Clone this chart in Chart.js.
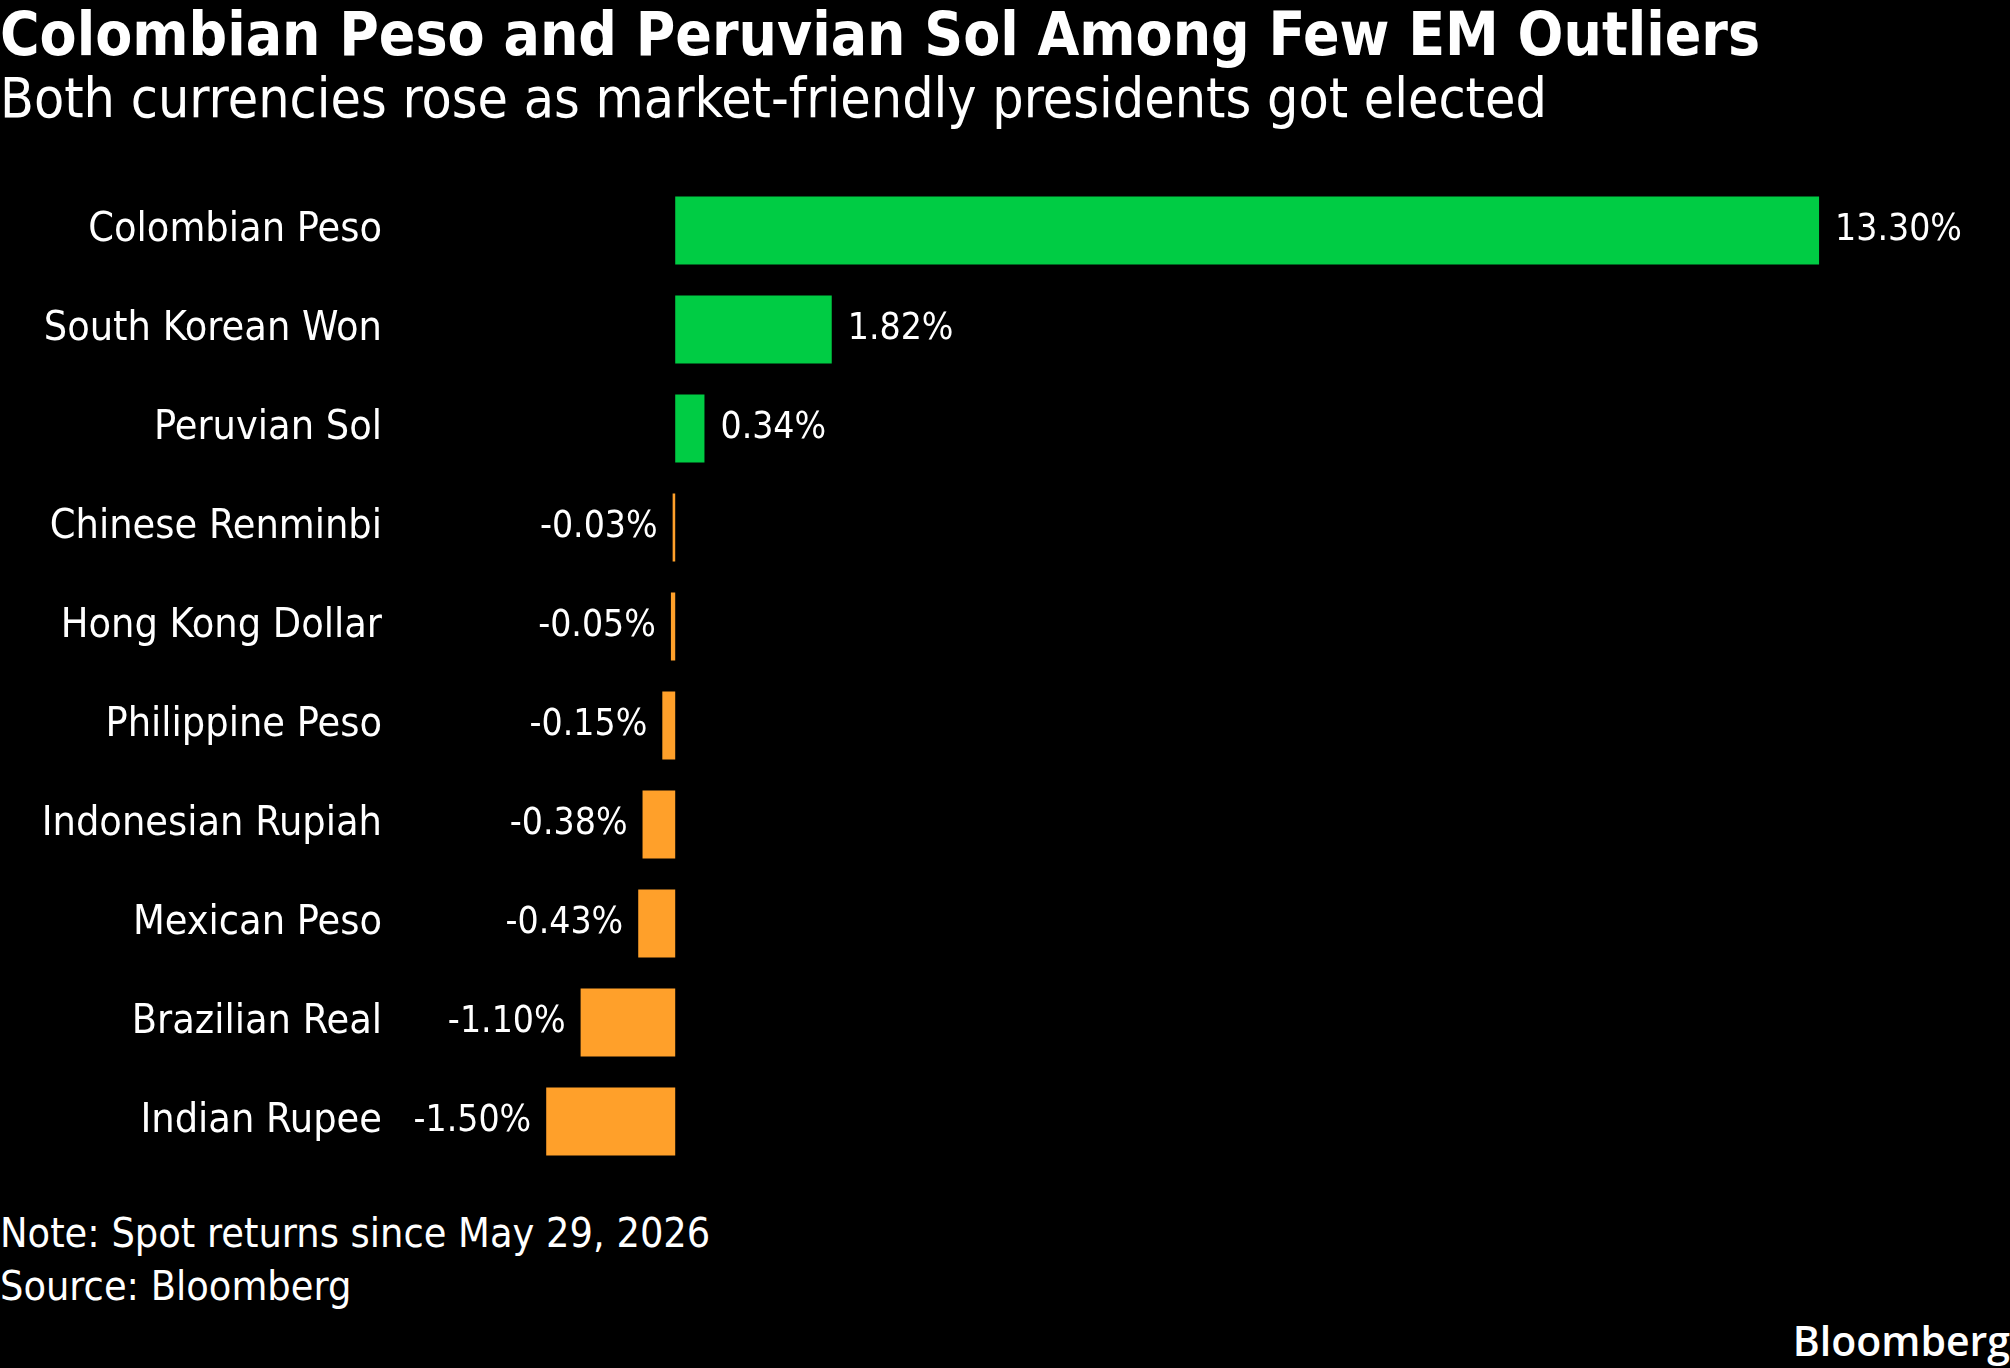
<!DOCTYPE html>
<html>
<head>
<meta charset="utf-8">
<script src="https://cdn.jsdelivr.net/npm/chart.js@4"></script>
<style>
  body { margin: 0; background: #000; width: 2010px; height: 1368px; overflow: hidden; position: relative; }
  .txt { position: absolute; color: #fff; white-space: nowrap; line-height: 1; font-family: "DejaVu Sans"; font-stretch: condensed; }
  #title { left: 0; top: 4px; font-size: 60px; font-weight: bold; }
  #subtitle { left: 0; top: 71px; font-size: 55px; }
  #note { left: 0; top: 1213px; font-size: 41px; }
  #source { left: 0; top: 1266px; font-size: 41px; }
  #logo { right: 0; top: 1312px; font: 600 41px "Open Sans"; font-stretch: normal; }
  #wrap { position: absolute; left: 0; top: 181px; width: 2010px; height: 990px; }
</style>
</head>
<body>
<div class="txt" id="title">Colombian Peso and Peruvian Sol Among Few EM Outliers</div>
<div class="txt" id="subtitle">Both currencies rose as market-friendly presidents got elected</div>
<div class="txt" id="note">Note: Spot returns since May 29, 2026</div>
<div class="txt" id="source">Source: Bloomberg</div>
<div class="txt" id="logo">Bloomberg</div>
<div id="wrap"><canvas id="chart"></canvas></div>
<script>
const currencies = ['Colombian Peso', 'South Korean Won', 'Peruvian Sol', 'Chinese Renminbi', 'Hong Kong Dollar',
    'Philippine Peso', 'Indonesian Rupiah', 'Mexican Peso', 'Brazilian Real', 'Indian Rupee'];
const returns = [13.30, 1.82, 0.34, -0.03, -0.05, -0.15, -0.38, -0.43, -1.10, -1.50];

const nameFont = 'condensed 41px "DejaVu Sans"';
const valueFont = 'condensed 37px "DejaVu Sans"';

// nomes das moedas e valores desenhados à mão (fonte condensada)
const textLabels = {
    id: 'textLabels',
    afterDatasetsDraw(chart) {
        const ctx = chart.ctx;
        const meta = chart.getDatasetMeta(0);
        const yScale = chart.scales.y;
        ctx.save();
        ctx.fillStyle = '#fff';
        ctx.textBaseline = 'middle';
        ctx.font = nameFont;
        ctx.textAlign = 'right';
        currencies.forEach((name, i) => {
            ctx.fillText(name, 382, yScale.getPixelForValue(i));
        });
        ctx.font = valueFont;
        meta.data.forEach((bar, i) => {
            const v = returns[i];
            const txt = v.toFixed(2) + '%';
            if (v >= 0) {
                ctx.textAlign = 'left';
                ctx.fillText(txt, bar.x + 16, bar.y);
            } else {
                ctx.textAlign = 'right';
                ctx.fillText(txt, bar.x - 15, bar.y);
            }
        });
        ctx.restore();
    }
};

new Chart(document.getElementById('chart'), {
    type: 'bar',
    data: {
        labels: currencies,
        datasets: [{
            data: returns,
            backgroundColor: returns.map(v => v >= 0 ? '#00cc44' : '#ffa02a'),
            borderWidth: 0,
            categoryPercentage: 1,
            barPercentage: 0.687
        }]
    },
    options: {
        indexAxis: 'y',
        responsive: true,
        maintainAspectRatio: false,
        animation: false,
        layout: { padding: 0 },
        plugins: { legend: { display: false }, tooltip: { enabled: false } },
        scales: {
            x: { display: false, min: -3.2, max: 15.52 },
            y: {
                afterFit(scale) {
                    scale.width = 400;
                    scale.paddingTop = 0;
                    scale.paddingBottom = 0;
                },
                grid: { display: false, drawTicks: false },
                border: { display: false },
                ticks: { display: false }
            }
        }
    },
    plugins: [textLabels]
});
</script>
</body>
</html>
